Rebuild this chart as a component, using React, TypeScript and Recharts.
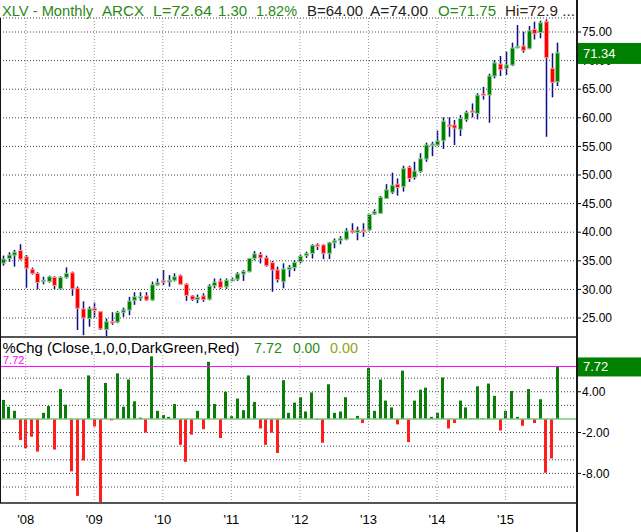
import React from "react";
import { ComposedChart, Bar, XAxis, YAxis, CartesianGrid, ReferenceLine } from "recharts";

const FONT = "'Liberation Sans', Arial, Helvetica, sans-serif";

// monthly bars, Sep 2007 .. Oct 2015, plus three empty slots on the right
const months = [
  "Sep07", "Oct07", "Nov07", "Dec07",
  "Jan08", "Feb08", "Mar08", "Apr08", "May08", "Jun08", "Jul08", "Aug08", "Sep08", "Oct08", "Nov08", "Dec08",
  "Jan09", "Feb09", "Mar09", "Apr09", "May09", "Jun09", "Jul09", "Aug09", "Sep09", "Oct09", "Nov09", "Dec09",
  "Jan10", "Feb10", "Mar10", "Apr10", "May10", "Jun10", "Jul10", "Aug10", "Sep10", "Oct10", "Nov10", "Dec10",
  "Jan11", "Feb11", "Mar11", "Apr11", "May11", "Jun11", "Jul11", "Aug11", "Sep11", "Oct11", "Nov11", "Dec11",
  "Jan12", "Feb12", "Mar12", "Apr12", "May12", "Jun12", "Jul12", "Aug12", "Sep12", "Oct12", "Nov12", "Dec12",
  "Jan13", "Feb13", "Mar13", "Apr13", "May13", "Jun13", "Jul13", "Aug13", "Sep13", "Oct13", "Nov13", "Dec13",
  "Jan14", "Feb14", "Mar14", "Apr14", "May14", "Jun14", "Jul14", "Aug14", "Sep14", "Oct14", "Nov14", "Dec14",
  "Jan15", "Feb15", "Mar15", "Apr15", "May15", "Jun15", "Jul15", "Aug15", "Sep15", "Oct15",
  "Nov15", "Dec15", "Jan16",
];

const opens = [
  34.6, 35.4, 36.0, 36.8, 35.7, 33.5, 32.8, 31.35, 31.4, 32.1, 30.1, 32.1, 32.9, 30.2, 26.6, 24.9,
  26.7, 26.1, 23.0, 24.4, 24.3, 26.0, 26.4, 28.1, 28.7, 28.85, 28.15, 30.8, 31.5, 31.3, 31.6, 32.4,
  30.9, 28.85, 28.25, 28.85, 28.3, 30.65, 31.45, 30.45, 31.6, 31.8, 32.7, 33.1, 35.43, 36.1, 35.5, 34.67,
  33.39, 31.35, 33.5, 33.8, 34.84, 35.9, 36.3, 37.76, 37.76, 36.3, 38.17, 38.6, 38.8, 40.27, 39.97, 40.38,
  40.38, 43.2, 43.3, 45.9, 47.0, 48.4, 47.95, 51.34, 49.6, 50.6, 52.8, 55.2, 55.24, 56.0, 58.74, 58.74,
  58.0, 59.73, 61.2, 60.78, 64.16, 64.0, 67.3, 69.4, 68.65, 69.23, 72.3, 72.55, 72.14, 75.46, 74.9, 76.8,
  68.65, 66.3,
];
const highs = [
  35.9, 36.5, 36.9, 37.9, 36.0, 33.8, 33.0, 32.2, 32.4, 32.3, 32.3, 33.85, 33.1, 30.5, 27.9, 27.0,
  27.7, 26.2, 24.9, 26.0, 26.2, 26.8, 28.7, 29.5, 29.5, 29.5, 31.35, 31.9, 33.4, 32.5, 32.8, 32.6,
  31.06, 29.0, 29.1, 29.3, 30.9, 31.9, 31.9, 31.9, 32.05, 33.0, 33.4, 35.5, 36.7, 36.5, 35.9, 34.96,
  33.97, 34.55, 34.26, 35.1, 36.1, 36.6, 37.9, 38.05, 37.9, 38.3, 38.9, 39.3, 40.7, 41.55, 40.97, 41.55,
  43.2, 44.0, 46.33, 48.4, 50.4, 49.4, 51.6, 51.6, 52.3, 53.8, 55.65, 55.8, 57.75, 60.08, 60.08, 59.6,
  60.5, 61.25, 62.5, 64.3, 65.4, 67.7, 70.1, 70.8, 71.56, 73.13, 76.22, 75.06, 76.05, 76.8, 76.98, 77.2,
  71.27, 73.13,
];
const lows = [
  34.15, 34.85, 34.0, 35.1, 30.3, 32.6, 30.0, 30.9, 31.2, 30.0, 29.9, 31.9, 28.9, 22.9, 22.0, 23.5,
  25.1, 22.9, 21.6, 23.8, 24.1, 25.2, 25.5, 27.3, 28.0, 28.0, 28.0, 30.65, 30.8, 30.5, 31.4, 30.8,
  28.0, 28.0, 27.6, 27.85, 28.1, 30.2, 30.1, 30.1, 31.45, 31.5, 31.5, 33.0, 35.1, 34.55, 33.97, 29.6,
  31.23, 30.2, 32.2, 33.2, 34.55, 35.5, 35.4, 36.9, 35.3, 35.3, 37.2, 37.9, 38.6, 39.8, 38.6, 39.2,
  40.27, 43.0, 43.2, 45.8, 46.7, 46.4, 47.1, 48.8, 49.2, 50.4, 52.3, 53.3, 55.1, 54.54, 56.7, 55.24,
  56.8, 59.33, 60.08, 59.73, 63.2, 59.15, 66.9, 67.3, 67.48, 69.05, 72.14, 71.39, 71.97, 73.7, 73.9, 56.7,
  63.58, 65.56,
];
const closes = [
  35.3, 36.0, 36.5, 35.3, 33.7, 32.8, 31.2, 31.6, 32.2, 30.7, 32.1, 32.8, 30.1, 26.7, 25.0, 26.6,
  26.3, 23.1, 24.35, 24.3, 25.95, 26.4, 27.95, 28.7, 28.75, 28.15, 30.8, 31.15, 31.35, 31.6, 32.2, 30.9,
  28.95, 28.25, 28.6, 28.2, 30.6, 31.25, 30.35, 31.6, 31.75, 32.7, 33.15, 35.4, 36.2, 35.5, 34.15, 33.4,
  31.7, 33.55, 33.85, 34.7, 35.8, 36.25, 37.7, 37.6, 36.3, 38.15, 38.5, 38.93, 40.2, 40.15, 40.35, 40.1,
  43.1, 43.6, 46.1, 47.4, 48.2, 47.8, 51.1, 49.4, 50.7, 52.85, 55.25, 55.4, 55.95, 59.4, 58.55, 58.2,
  59.9, 60.9, 60.95, 63.95, 64.0, 67.3, 69.6, 68.4, 69.23, 72.2, 72.5, 71.8, 75.2, 74.7, 76.6, 70.5,
  66.2, 71.34,
];
const pctChg = [
  2.8, 1.8, 1.2, -3.1, -4.3, -2.6, -4.8, 0.9, 1.9, -4.5, 4.4, 2.1, -7.7, -11.3, -6.1, 6.4,
  -1.1, -12.2, 5.3, -0.2, 6.7, 1.8, 5.8, 2.6, 0.2, -2.0, 9.2, 1.2, 0.6, 0.3, 2.2, -3.8,
  -6.3, -2.3, 1.2, -1.5, 8.4, 2.2, -2.8, 4.0, 0.4, 3.0, 1.3, 6.4, 2.5, -1.4, -3.8, -2.0,
  -5.0, 5.7, 0.9, 2.4, 3.2, 1.1, 3.9, -0.15, -3.5, 5.1, 0.9, 1.1, 3.2, -0.15, 0.45, -0.6,
  7.5, 1.2, 5.8, 2.7, 1.7, -0.8, 7.1, -3.4, 2.7, 4.3, 4.6, 0.3, 0.9, 6.1, -1.4, -0.6,
  2.7, 1.7, 0.1, 4.8, 0.1, 5.2, 3.4, -1.7, 1.2, 4.1, 0.3, -1.0, 4.4, -0.6, 2.9, -7.9,
  -5.8, 7.72,
];

const yearTicks = ["Jan08", "Jan09", "Jan10", "Jan11", "Jan12", "Jan13", "Jan14", "Jan15"];
const yearLabels = ["'08", "'09", "'10", "'11", "'12", "'13", "'14", "'15"];
const priceTicks = [25, 30, 35, 40, 45, 50, 55, 60, 65, 70, 75];
const pctTicks = [4, -2, -8];
const pctGrid = [6, 4, 2, -2, -4, -6, -8, -10];
const lastClose = 71.34;
const lastPct = 7.72;

const priceDomain = [21.68, 77.45];
const pctDomain = [-12.35, 11.9];

const rows = months.map((m, i) => ({
  m,
  o: opens[i],
  h: highs[i],
  l: lows[i],
  c: closes[i],
  hl: opens[i] === undefined ? null : [lows[i], highs[i]],
  pct: pctChg[i] === undefined ? null : pctChg[i],
}));

const Candle = (props: any) => {
  const { x, y, width, height, payload } = props;
  if (!payload || payload.o == null || isNaN(y)) return null;
  const { o, h, l, c } = payload;
  const k = height / (h - l || 1);
  const cx = Math.round(x + width / 2) + 0.5;
  const yO = y + (h - o) * k;
  const yC = y + (h - c) * k;
  const up = c >= o;
  const top = Math.min(yO, yC);
  const bh = Math.max(Math.abs(yC - yO), 1.5);
  return (
    <g>
      <line x1={cx} x2={cx} y1={y} y2={y + height} stroke="#a9a9dd" strokeWidth={2.5} />
      <line x1={cx} x2={cx} y1={y} y2={y + height} stroke="#12127e" strokeWidth={1} />
      <rect
        x={cx - 2}
        y={top}
        width={4}
        height={bh}
        fill={up ? "#008000" : "#ff0000"}
        stroke={up ? "#8fcf8f" : "#ff9d9d"}
        strokeWidth={1}
      />
    </g>
  );
};

const PctBar = (props: any) => {
  const { x, y, width, height, payload } = props;
  if (!payload || payload.pct == null || isNaN(y)) return null;
  const up = payload.pct >= 0;
  const top = height < 0 ? y + height : y;
  return (
    <rect
      x={Math.round(x + width / 2 - 1.5)}
      y={top}
      width={3}
      height={Math.abs(height)}
      fill={up ? "#0b7d0b" : "#ff1e1e"}
    />
  );
};

const SideBox = (props: any) => {
  const { viewBox, text, boxH, fs, leftLabel } = props;
  if (!viewBox) return null;
  const right = viewBox.x + viewBox.width;
  const cy = viewBox.y;
  return (
    <g>
      {leftLabel && (
        <text x={viewBox.x + 3} y={cy - 2.5} fill="#ff00ff" fontSize={11} fontFamily={FONT}>
          {leftLabel}
        </text>
      )}
      <rect x={right + 1} y={cy - boxH / 2 + 0.5} width={64} height={boxH} fill="#008000" />
      <text x={right + 6} y={cy + fs * 0.38} fill="#ffffff" fontSize={fs} fontFamily={FONT}>
        {text}
      </text>
    </g>
  );
};

const axisTick = { fill: "#000", fontSize: 12, fontFamily: FONT };
const mainMargin = { top: 18, right: 0, bottom: 0, left: 0 };

const App: React.FC = () => {
  return (
    <div style={{ position: "absolute", left: 0, top: 0, width: 641, height: 532, background: "#fff" }}>
      <div style={{ position: "absolute", left: 0, top: 0 }}>
        <ComposedChart width={641} height={337} data={rows} margin={mainMargin}>
          <CartesianGrid vertical={false} stroke="#444" strokeDasharray="1 2" />
          {yearTicks.map((t) => (
            <ReferenceLine key={t} x={t} stroke="#999" strokeDasharray="1 2" />
          ))}
          <XAxis dataKey="m" hide />
          <YAxis
            orientation="right"
            width={64}
            domain={priceDomain}
            allowDataOverflow
            ticks={priceTicks}
            interval={0}
            tickFormatter={(v: number) => v.toFixed(2)}
            axisLine={false}
            tickLine={{ stroke: "#000" }}
            tickSize={4}
            tickMargin={1}
            tick={axisTick}
          />
          <Bar dataKey="hl" shape={(p: any) => <Candle {...p} />} isAnimationActive={false} />
        </ComposedChart>
      </div>

      {/* last-close marker, drawn over the axis labels */}
      <div style={{ position: "absolute", left: 0, top: 0 }}>
        <ComposedChart width={641} height={337} data={rows} margin={mainMargin}>
          <XAxis dataKey="m" hide />
          <YAxis
            orientation="right"
            width={64}
            domain={priceDomain}
            allowDataOverflow
            tick={false}
            axisLine={false}
            tickLine={false}
          />
          <ReferenceLine
            y={lastClose}
            stroke="none"
            label={(p: any) => <SideBox {...p} text={lastClose.toFixed(2)} boxH={21} fs={13} />}
          />
        </ComposedChart>
      </div>

      <div style={{ position: "absolute", left: 0, top: 337 }}>
        <ComposedChart width={641} height={195} data={rows} margin={{ top: 1, right: 0, bottom: 0, left: 0 }}>
          <CartesianGrid vertical={false} horizontalValues={pctGrid} stroke="#444" strokeDasharray="1 2" />
          {yearTicks.map((t) => (
            <ReferenceLine key={t} x={t} stroke="#999" strokeDasharray="1 2" />
          ))}
          <XAxis
            dataKey="m"
            ticks={yearTicks}
            interval={0}
            tickFormatter={(v: string) => yearLabels[yearTicks.indexOf(v)]}
            axisLine={false}
            tickLine={false}
            tickSize={4}
            tickMargin={8}
            height={29}
            tick={{ fill: "#000", fontSize: 13, fontFamily: FONT }}
          />
          <YAxis
            orientation="right"
            width={64}
            domain={pctDomain}
            allowDataOverflow
            ticks={pctTicks}
            interval={0}
            tickFormatter={(v: number) => v.toFixed(2)}
            axisLine={false}
            tickLine={{ stroke: "#000" }}
            tickSize={4}
            tickMargin={1}
            tick={axisTick}
          />
          <ReferenceLine y={0} stroke="#7cc47c" strokeWidth={1.5} />
          <Bar dataKey="pct" shape={(p: any) => <PctBar {...p} />} isAnimationActive={false} />
          <ReferenceLine
            y={lastPct}
            stroke="#ff00ff"
            label={(p: any) => (
              <SideBox {...p} text={lastPct.toFixed(2)} boxH={19} fs={13} leftLabel={lastPct.toFixed(2)} />
            )}
          />
        </ComposedChart>
      </div>

      <svg
        width={641}
        height={532}
        style={{ position: "absolute", left: 0, top: 0, pointerEvents: "none" }}
        fontFamily={FONT}
      >
        {/* frame */}
        <rect x={576} y={0} width={2} height={532} fill="#1a1a1a" />
        <rect x={0} y={336} width={576} height={2} fill="#555" />
        <rect x={0} y={502} width={576} height={2} fill="#555" />
        <rect x={0} y={18} width={1} height={485} fill="#111" />

        {/* price panel title */}
        <g fontSize={15}>
          <text x={2} y={15.5} fill="#2a8a14" textLength={91} lengthAdjust="spacingAndGlyphs">XLV - Monthly</text>
          <text x={102} y={15.5} fill="#2a8a14" textLength={42} lengthAdjust="spacingAndGlyphs">ARCX</text>
          <text x={153} y={15.5} fill="#2a8a14" textLength={59} lengthAdjust="spacingAndGlyphs">L=72.64</text>
          <text x={218} y={15.5} fill="#2a8a14" textLength={29} lengthAdjust="spacingAndGlyphs">1.30</text>
          <text x={256} y={15.5} fill="#2a8a14" textLength={41} lengthAdjust="spacingAndGlyphs">1.82%</text>
          <text x={307} y={15.5} fill="#222" textLength={56} lengthAdjust="spacingAndGlyphs">B=64.00</text>
          <text x={370} y={15.5} fill="#222" textLength={58} lengthAdjust="spacingAndGlyphs">A=74.00</text>
          <text x={438} y={15.5} fill="#2a8a14" textLength={58} lengthAdjust="spacingAndGlyphs">O=71.75</text>
          <text x={505} y={15.5} fill="#3a2414" textLength={70} lengthAdjust="spacingAndGlyphs">Hi=72.9 ...</text>
        </g>

        {/* indicator panel title */}
        <rect x={1} y={338} width={360} height={16} fill="#fff" />
        <g fontSize={15}>
          <text x={2.5} y={352.5} fill="#000" textLength={237} lengthAdjust="spacingAndGlyphs">%Chg (Close,1,0,0,DarkGreen,Red)</text>
          <text x={254} y={352.5} fill="#2a8a14" textLength={28} lengthAdjust="spacingAndGlyphs">7.72</text>
          <text x={293} y={352.5} fill="#2a8a14" textLength={27} lengthAdjust="spacingAndGlyphs">0.00</text>
          <text x={330} y={352.5} fill="#93a21a" textLength={28} lengthAdjust="spacingAndGlyphs">0.00</text>
        </g>
      </svg>
    </div>
  );
};

export default App;
